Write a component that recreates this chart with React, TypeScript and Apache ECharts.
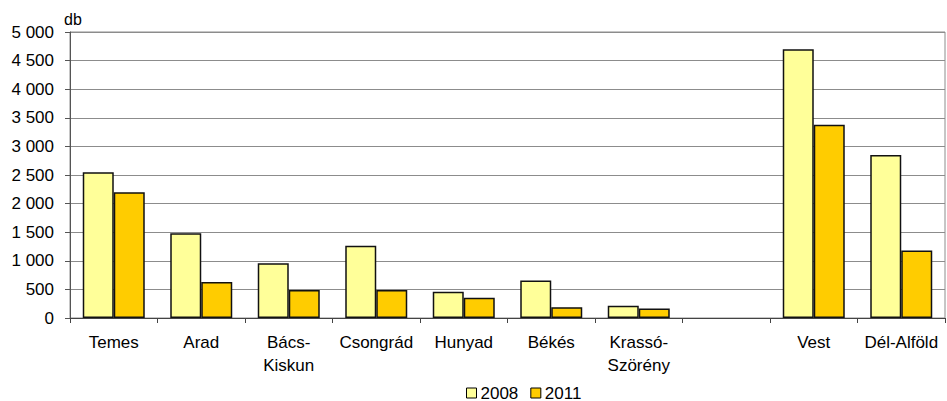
import React, { useEffect, useRef } from "react";
import * as echarts from "echarts";

const categories = ["Temes", "Arad", "Bács-\nKiskun", "Csongrád", "Hunyad", "Békés", "Krassó-\nSzörény", "", "Vest", "Dél-Alföld"];
const values2008 = [2550, 1480, 955, 1265, 460, 655, 215, null, 4700, 2850];
const values2011 = [2200, 630, 490, 490, 355, 190, 165, null, 3380, 1180];
const seriesNames = ["2008", "2011"];
const yTicks = { min: 0, max: 5000, interval: 500 };

const FONT = "Liberation Sans, Arial, sans-serif";

export default function App() {
  const ref = useRef<HTMLDivElement>(null);
  useEffect(() => {
    const chart = echarts.init(ref.current!, null, { renderer: "svg" });
    chart.setOption({
      animation: false,
      textStyle: { fontFamily: FONT },
      grid: { left: 70, right: 2, top: 32, bottom: 83, show: true, borderColor: "#8c8c8c", borderWidth: 1 },
      legend: {
        data: seriesNames,
        left: 461,
        top: 379,
        itemWidth: 10,
        itemHeight: 10,
        itemGap: 12,
        icon: "rect",
        textStyle: { fontFamily: FONT, fontSize: 17, lineHeight: 18, color: "#000", padding: [0, 0, 0, -1] },
        itemStyle: { borderColor: "#000", borderWidth: 1 },
      },
      graphic: [
        { type: "text", left: 64, top: 11, style: { text: "db", fontFamily: FONT, fontSize: 16, fill: "#000" } },
      ],
      xAxis: {
        type: "category",
        data: categories,
        axisLine: { lineStyle: { color: "#444", width: 1 } },
        axisTick: { show: true, alignWithLabel: false, length: 5, lineStyle: { color: "#444" } },
        axisLabel: { interval: 0, color: "#000", fontSize: 17, fontFamily: FONT, lineHeight: 23, margin: 13 },
      },
      yAxis: {
        type: "value",
        min: yTicks.min,
        max: yTicks.max,
        interval: yTicks.interval,
        axisLine: { show: true, lineStyle: { color: "#555", width: 1 } },
        axisTick: { show: true, length: 5, lineStyle: { color: "#555" } },
        axisLabel: {
          color: "#000",
          fontSize: 17,
          fontFamily: FONT,
          margin: 16,
          formatter: (v: number) => String(v).replace(/\B(?=(\d{3})+(?!\d))/g, " "),
        },
        splitLine: { show: true, lineStyle: { color: "#8c8c8c", width: 1 } },
      },
      series: [
        {
          name: seriesNames[0],
          type: "bar",
          data: values2008,
          barWidth: 31,
          barGap: "0%",
          itemStyle: { color: "#FFFF99", borderColor: "#111", borderWidth: 1.5 },
        },
        {
          name: seriesNames[1],
          type: "bar",
          data: values2011,
          barWidth: 31,
          barGap: "0%",
          itemStyle: { color: "#FFCC00", borderColor: "#111", borderWidth: 1.5 },
        },
      ],
    });
    return () => chart.dispose();
  }, []);
  return <div ref={ref} style={{ width: 947, height: 401, position: "absolute", left: 0, top: 0, background: "#fff" }} />;
}
